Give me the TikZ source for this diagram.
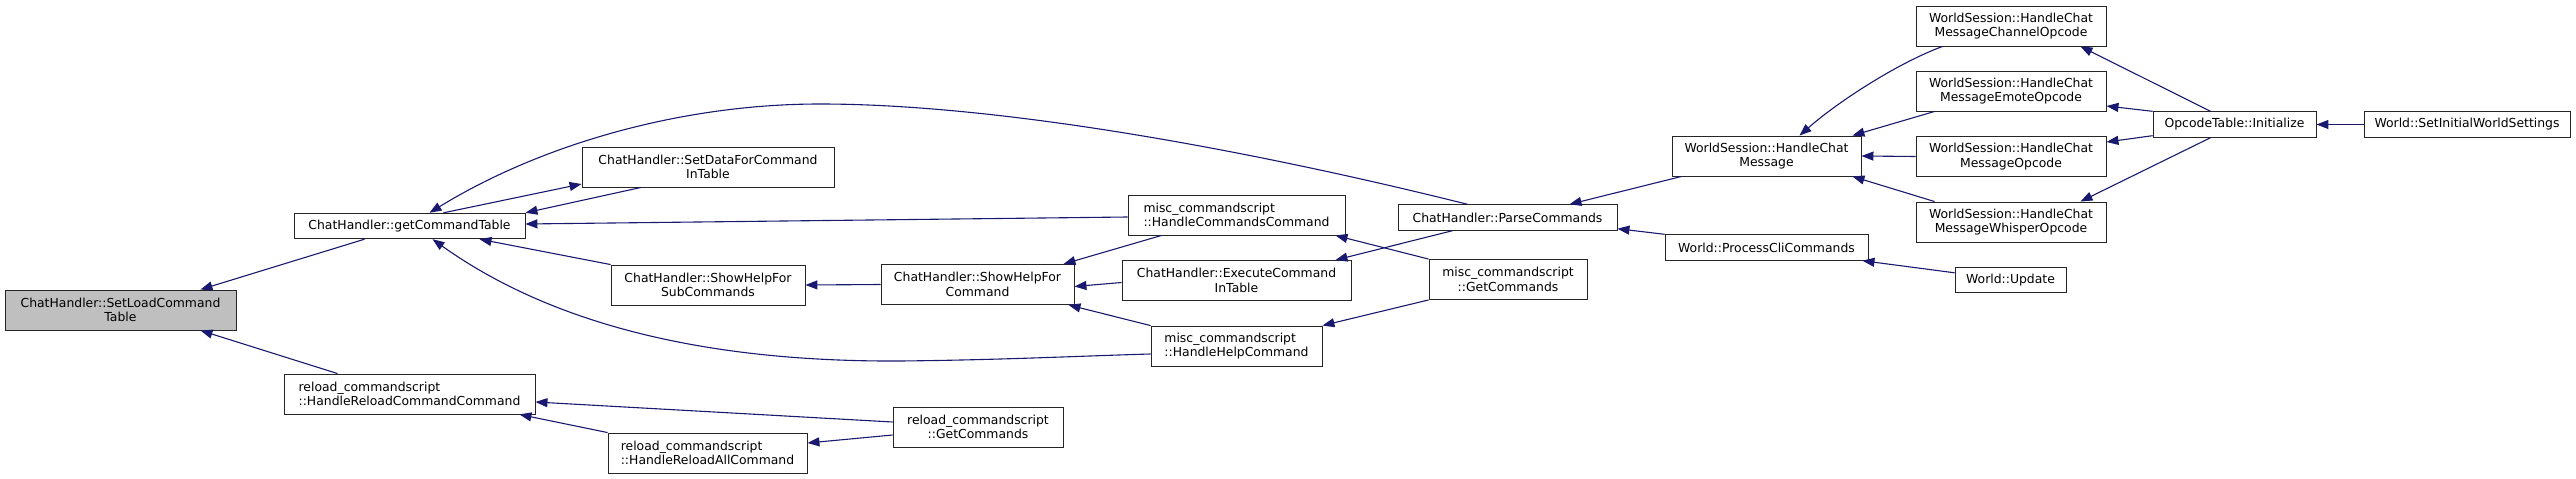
\documentclass[tikz,border=0pt]{standalone}
\usepackage{fontspec}
\setmainfont{DejaVu Sans}
\usetikzlibrary{arrows.meta}
\definecolor{edgeblue}{HTML}{191970}
\definecolor{hilite}{HTML}{BFBFBF}
\tikzset{
  fn/.style={draw=black!85, line width=0.9pt, fill=white, inner sep=0pt, minimum height=25.5pt, font=\fontsize{12.4}{14.5}\selectfont},
  fntwo/.style={fn, minimum height=40pt, align=center},
  fnleft/.style={fn, minimum height=40pt, align=left},
  call/.style={draw=edgeblue, line width=1.1pt, {Triangle[length=12pt,width=9pt]}-}
}
\begin{document}
\begin{tikzpicture}[x=1pt,y=-1pt]
\useasboundingbox (0,0) rectangle (2576,479);
% functions, one column per rank
\node[fntwo, fill=hilite, minimum width=231pt] (sl) at (120.5,310) {ChatHandler::SetLoadCommand\\Table};
\node[fn, minimum width=231pt] (gct) at (409.5,226) {ChatHandler::getCommandTable};
\node[fnleft, minimum width=251pt] (hrcc) at (409.5,394) {reload\_commandscript\\::HandleReloadCommandCommand};
\node[fntwo, minimum width=252pt] (sdf) at (708,167) {ChatHandler::SetDataForCommand\\InTable};
\node[fntwo, minimum width=194pt] (shfsc) at (708,285) {ChatHandler::ShowHelpFor\\SubCommands};
\node[fnleft, minimum width=199pt] (hrac) at (707.5,453) {reload\_commandscript\\::HandleReloadAllCommand};
\node[fntwo, minimum width=193pt] (shfc) at (977.5,284.5) {ChatHandler::ShowHelpFor\\Command};
\node[fntwo, minimum width=170pt] (rgc) at (978,427) {reload\_commandscript\\::GetCommands};
\node[fnleft, minimum width=217pt] (hcc) at (1236.5,215) {misc\_commandscript\\::HandleCommandsCommand};
\node[fntwo, minimum width=229pt] (ecit) at (1236.5,280.5) {ChatHandler::ExecuteCommand\\InTable};
\node[fnleft, minimum width=171pt] (hhc) at (1236.5,346) {misc\_commandscript\\::HandleHelpCommand};
\node[fn, minimum width=219pt] (pc) at (1507.5,217.5) {ChatHandler::ParseCommands};
\node[fntwo, minimum width=158pt] (mgc) at (1508,279.5) {misc\_commandscript\\::GetCommands};
\node[fntwo, minimum width=189pt] (hcm) at (1766.5,156) {WorldSession::HandleChat\\Message};
\node[fn, minimum width=203pt] (pcc) at (1766.5,247.5) {World::ProcessCliCommands};
\node[fntwo, minimum width=190pt] (chn) at (2011,26) {WorldSession::HandleChat\\MessageChannelOpcode};
\node[fntwo, minimum width=190pt] (emo) at (2011,91) {WorldSession::HandleChat\\MessageEmoteOpcode};
\node[fntwo, minimum width=190pt] (mop) at (2011,156.5) {WorldSession::HandleChat\\MessageOpcode};
\node[fntwo, minimum width=190pt] (wsp) at (2011,222) {WorldSession::HandleChat\\MessageWhisperOpcode};
\node[fn, minimum width=111pt] (upd) at (2010.5,280) {World::Update};
\node[fn, minimum width=163pt] (ini) at (2234.5,124.5) {OpcodeTable::Initialize};
\node[fn, minimum width=206pt] (swi) at (2467,124.5) {World::SetInitialWorldSettings};
% calls, tip at the callee
\draw[call] ([xshift=-36pt]sl.north east) -- ([xshift=-45pt]gct.south);
\draw[call] ([xshift=-36pt]sl.south east) -- ([xshift=-72pt]hrcc.north);
\draw[call] ([xshift=20pt]gct.north) .. controls (540,145) and (680,104) .. (820,104)
  .. controls (1000,104) and (1250,150) .. ([xshift=-40pt]pc.north);
\draw[call] (gct.north east) -- ([xshift=-67pt]sdf.south);
\draw[call] ([yshift=-17pt]sdf.west) -- ([xshift=34pt]gct.north);
\draw[call] ([yshift=2pt]gct.east) -- ([yshift=-2pt]hcc.west);
\draw[call] ([xshift=70pt]gct.south) -- (shfsc.north west);
\draw[call] ([xshift=23pt]gct.south) .. controls (560,330) and (720,362) .. (900,361)
  .. controls (1000,360) and (1080,356) .. ([yshift=-8pt]hhc.west);
\draw[call] (shfsc.east) -- (shfc.west);
\draw[call] ([xshift=-11pt]shfc.north east) -- ([xshift=-75pt]hcc.south);
\draw[call] ([yshift=-2pt]shfc.east) -- ([yshift=-2pt]ecit.west);
\draw[call] ([xshift=-6pt]shfc.south east) -- (hhc.north west);
\draw[call] ([xshift=-10pt]hcc.south east) -- (mgc.north west);
\draw[call] ([xshift=-16pt]ecit.north east) -- ([xshift=-55pt]pc.south);
\draw[call] (hhc.north east) -- (mgc.south west);
\draw[call] ([xshift=62pt]pc.north) -- ([xshift=10pt]hcm.south west);
\draw[call] ([yshift=2pt]pc.south east) -- (pcc.north west);
\draw[call] ([xshift=33pt]hcm.north) .. controls (1840,100) and (1900,62) .. ([xshift=27pt]chn.south west);
\draw[call] ([xshift=-9pt]hcm.north east) -- ([xshift=19pt]emo.south west);
\draw[call] (hcm.east) -- (mop.west);
\draw[call] ([xshift=-9pt]hcm.south east) -- ([xshift=19pt]wsp.north west);
\draw[call] ([xshift=-6pt]pcc.south east) -- ([yshift=-6pt]upd.north west);
\draw[call] ([xshift=-26pt]chn.south east) -- ([xshift=-24pt]ini.north);
\draw[call] ([yshift=-15pt]emo.east) -- (ini.north west);
\draw[call] ([yshift=14.5pt]mop.east) -- ([yshift=2pt]ini.south west);
\draw[call] ([xshift=-26pt]wsp.north east) -- ([xshift=-24pt]ini.south);
\draw[call] (ini.east) -- (swi.west);
\draw[call] ([yshift=-8pt]hrcc.east) -- ([yshift=5pt]rgc.west);
\draw[call] ([yshift=10pt]hrac.east) -- ([yshift=-8pt]rgc.west);
\draw[call] ([xshift=-16pt]hrcc.south east) -- (hrac.north west);
\end{tikzpicture}
\end{document}
